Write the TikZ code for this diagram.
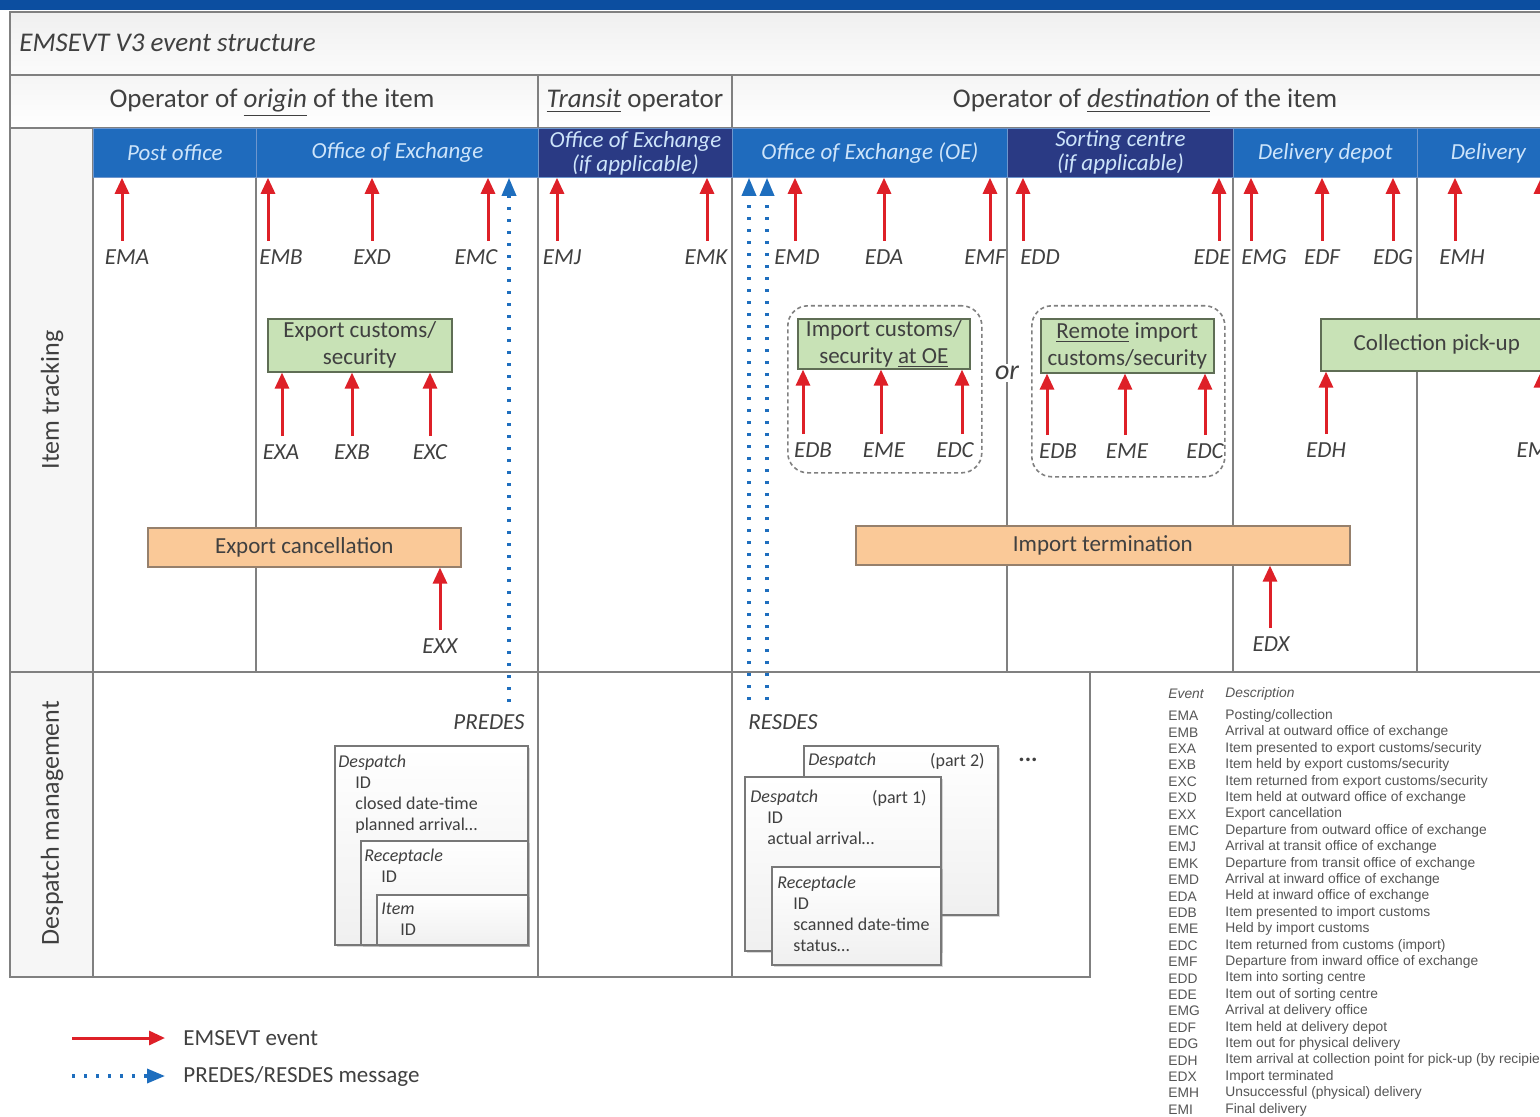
\documentclass[tikz,border=0pt]{standalone}
\usepackage{fontspec}
\setmainfont{Carlito}
\newfontfamily\tabfont{Liberation Sans}
\usetikzlibrary{arrows.meta,shadows}

\definecolor{topblue}{RGB}{12,78,160}
\definecolor{laneblue}{RGB}{31,107,189}
\definecolor{lanedark}{RGB}{42,58,132}
\definecolor{lanetext}{RGB}{205,228,250}
\definecolor{lanesep}{RGB}{110,150,205}
\definecolor{gridgray}{RGB}{128,128,128}
\definecolor{txtgray}{RGB}{64,64,64}
\definecolor{evred}{RGB}{222,32,40}
\definecolor{msgblue}{RGB}{30,110,190}
\definecolor{custgreen}{RGB}{200,226,182}
\definecolor{custedge}{RGB}{95,110,85}
\definecolor{cancel}{RGB}{250,201,152}
\definecolor{canceledge}{RGB}{150,128,108}
\definecolor{boxgray}{RGB}{120,120,120}
\definecolor{tabgray}{RGB}{85,85,85}

\begin{document}
\begin{tikzpicture}
[x=0.5pt,y=-0.5pt,%
  grid/.style={draw=gridgray,line width=0.6pt},%
  lane/.style={fill=laneblue,draw=lanesep,line width=0.4pt,text=lanetext,anchor=north west,
    minimum height=24.5pt,inner sep=0pt,align=center,font=\itshape\fontsize{11.5}{12}\selectfont},%
  hdr/.style={text=txtgray,inner sep=0pt,font=\fontsize{13.5}{15}\selectfont},%
  evl/.style={text=txtgray,inner sep=0pt,font=\itshape\fontsize{11.5}{13}\selectfont},%
  ev/.style={draw=evred,line width=1.5pt,-{Triangle[width=7pt,length=8pt]}},%
  msg/.style={draw=msgblue,line width=1.7pt,dash pattern=on 1.4pt off 4.6pt,-{Triangle[width=7pt,length=9pt]}},%
  cust/.style={fill=custgreen,draw=custedge,line width=0.8pt,anchor=north west,inner sep=0pt,
    align=center,text=txtgray,font=\fontsize{11.5}{13.5}\selectfont},%
  canc/.style={cust,fill=cancel,draw=canceledge},%
  grp/.style={draw=gridgray,line width=0.8pt,dash pattern=on 2pt off 1.5pt,rounded corners=10pt,
    anchor=north west,inner sep=0pt},%
  dbox/.style={draw=boxgray,line width=0.8pt,top color=white,bottom color=gray!12,anchor=north west,
    inner sep=0pt,drop shadow={shadow xshift=1.2pt,shadow yshift=-1.2pt,opacity=0.3}},%
  dtxt/.style={text=txtgray,anchor=north west,inner sep=0pt,align=left,font=\fontsize{9}{10.5}\selectfont},%
  tab/.style={text=tabgray,anchor=west,inner sep=0pt,font=\tabfont\fontsize{6.9}{8}\selectfont}]
\useasboundingbox (0,0) rectangle (1540,1117);
\clip (0,0) rectangle (1540,1117);
\fill[white] (0,0) rectangle (1540,1117);
\fill[topblue] (0,0) rectangle (1540,10);
\shade[top color=gray!12,bottom color=gray!3] (10,12) rectangle (1540,75);
\shade[top color=gray!8,bottom color=white] (10,75) rectangle (1540,128);
\fill[gray!7] (10,128) rectangle (93,977);

% frame
\draw[grid] (1540,12) -- (10,12) -- (10,977) -- (1090,977) -- (1090,672);
\draw[grid] (10,75) -- (1540,75);
\draw[grid] (10,128) -- (1540,128);
\draw[grid] (10,672) -- (1540,672);
\draw[grid] (93,128) -- (93,977);
\foreach \x in {538,732} \draw[grid] (\x,75) -- (\x,977);
\foreach \x in {256,1007,1233,1417} \draw[grid] (\x,177) -- (\x,672);

\node[hdr,anchor=west,font=\itshape\fontsize{13.5}{15}\selectfont] (ttl) at (19,43) {EMSEVT V3 event structure};
\node[hdr,anchor=base] (orig) at (272,108) {Operator of \underline{\textit{origin}} of the item};
\node[hdr,anchor=base] (trns) at (635,108) {\underline{\textit{Transit}} operator};
\node[hdr,anchor=base] (dest) at (1145,108) {Operator of \underline{\textit{destination}} of the item};
\node[hdr,rotate=90,font=\fontsize{13}{15}\selectfont] (itr) at (52,400) {Item tracking};
\node[hdr,rotate=90,font=\fontsize{13}{15}\selectfont] (dspm) at (52,823) {Despatch management};

% lanes
\node[lane,minimum width=81.5pt] (po) at (93,128) {Post office};
\node[lane,minimum width=141pt] (oeo) at (256,128) {Office of Exchange};
\node[lane,fill=lanedark,minimum width=97pt] (oet) at (538,128) {Office of Exchange\\(if applicable)};
\node[lane,minimum width=137.5pt] (oed) at (732,128) {Office of Exchange (OE)};
\node[lane,fill=lanedark,minimum width=113pt] (sc) at (1007,128) {Sorting centre\\(if applicable)};
\node[lane,minimum width=92pt] (dd) at (1233,128) {Delivery depot};
\node[lane,minimum width=71pt] (dl) at (1417,128) {Delivery};

% customs boxes
\node[grp,minimum width=97pt,minimum height=83.5pt] (impg) at (787,305) {};
\node[grp,minimum width=96.5pt,minimum height=85.5pt] (remg) at (1031,305) {};
\node[cust,minimum width=92pt,minimum height=26.5pt] (expc) at (267,318) {Export customs/\\security};
\node[cust,minimum width=86pt,minimum height=25pt] (impc) at (797,318) {Import customs/\\security \underline{at OE}};
\node[cust,minimum width=86.5pt,minimum height=27pt] (remc) at (1040,318) {\underline{Remote} import\\customs/security};
\node[cust,minimum width=116pt,minimum height=26pt] (coll) at (1320,318) {Collection pick-up};
\node[canc,minimum width=156.5pt,minimum height=19.5pt] (expx) at (147,527) {Export cancellation};
\node[canc,minimum width=247pt,minimum height=19.5pt] (impt) at (855,525) {Import termination};
\node[evl,fill=white,inner sep=1pt,font=\itshape\fontsize{14}{16}\selectfont] (or) at (1007,373) {or};

% events
\foreach \n/\t/\ax/\lx/\ly/\tg in {EMA/EMA/122/127/257/po, EMB/EMB/268/281/257/oeo,
  EXD/EXD/372/372/257/oeo, EMC/EMC/488/476/257/oeo, EMJ/EMJ/557/562/257/oet,
  EMK/EMK/707/706/257/oet, EMD/EMD/795/797/257/oed, EDA/EDA/884/884/257/oed,
  EMF/EMF/990/985/257/oed, EDD/EDD/1023/1040/257/sc, EDE/EDE/1219/1212/257/sc,
  EMG/EMG/1251/1264/257/dd, EDF/EDF/1322/1322/257/dd, EDG/EDG/1393/1393/257/dd,
  EMH/EMH/1455/1462/257/dl,
  EXA/EXA/282/281/452/expc, EXB/EXB/352/352/452/expc, EXC/EXC/430/430/452/expc,
  EDBa/EDB/803/813/450/impc, EMEa/EME/881/884/450/impc, EDCa/EDC/962/955/450/impc,
  EDBb/EDB/1047/1058/451/remc, EMEb/EME/1125/1127/451/remc, EDCb/EDC/1205/1205/451/remc,
  EDH/EDH/1326/1326/450/coll, EMI/EMI/1541/1535/450/coll,
  EXX/EXX/440/440/646/expx, EDX/EDX/1270/1271/644/impt}{
  \node[evl] (\n) at (\lx,\ly) {\t};
  \coordinate (\n-a) at (\ax,\ly-16);
  \draw[ev] (\n-a) -- (\n-a |- \tg.south);
}
\coordinate (dlx-a) at (1541,240);
\draw[ev] (dlx-a) -- (dlx-a |- dl.south);

% messages
\node[evl,anchor=east] (predes) at (525,722) {PREDES};
\node[evl,anchor=west] (resdes) at (748,722) {RESDES};
\coordinate (predes-a) at (509,702);
\coordinate (resdes-a) at (749,700);
\coordinate (resdes-b) at (767,700);
\draw[msg] (predes-a) -- (predes-a |- oeo.south);
\draw[msg] (resdes-a) -- (resdes-a |- oed.south);
\draw[msg] (resdes-b) -- (resdes-b |- oed.south);

% PREDES despatch
\node[dbox,minimum width=96.5pt,minimum height=99.5pt] (dsp) at (334,745) {};
\node[dtxt] (dspt) at (338,755) {\textit{Despatch}\\\hspace*{8.5pt}ID\\\hspace*{8.5pt}closed date-time\\\hspace*{8.5pt}planned arrival\ldots};
\node[dbox,minimum width=83.5pt,minimum height=52pt] (rcp) at (360,840) {};
\node[dtxt] (rcpt) at (364,849) {\textit{Receptacle}\\\hspace*{8.5pt}ID};
\node[dbox,minimum width=75.5pt,minimum height=25pt] (itm) at (376,894) {};
\node[dtxt] (itmt) at (381,903) {\textit{Item}\\\hspace*{9.5pt}ID};

% RESDES despatch
\node[dbox,minimum width=97pt,minimum height=84.5pt] (dsp2) at (803,745) {};
\node[dtxt] (dsp2t) at (808,753) {\textit{Despatch}};
\node[dtxt,anchor=north east] (p2) at (985,753) {(part 2)};
\node[dbox,minimum width=98pt,minimum height=87pt] (dsp1) at (744,776) {};
\node[dtxt] (dsp1t) at (750,790) {\textit{Despatch}\\\hspace*{8.5pt}ID\\\hspace*{8.5pt}actual arrival\ldots};
\node[dtxt,anchor=north east] (p1) at (927,790) {(part 1)};
\node[dbox,minimum width=84.5pt,minimum height=49pt] (rcp1) at (771,866) {};
\node[dtxt] (rcp1t) at (777,876) {\textit{Receptacle}\\\hspace*{8pt}ID\\\hspace*{8pt}scanned date-time\\\hspace*{8pt}status\ldots};
\node[evl,font=\bfseries\fontsize{12}{14}\selectfont] (more) at (1028,760) {...};

% event table
\node[tab,font=\tabfont\itshape\fontsize{6.9}{8}\selectfont] (thev) at (1168,694) {Event};
\node[tab,font=\tabfont\itshape\fontsize{6.9}{8}\selectfont] (thde) at (1225,694) {Description};
\foreach \c/\d [count=\i] in {EMA/{Posting/collection}, EMB/{Arrival at outward office of exchange},
  EXA/{Item presented to export customs/security}, EXB/{Item held by export customs/security},
  EXC/{Item returned from export customs/security}, EXD/{Item held at outward office of exchange},
  EXX/{Export cancellation}, EMC/{Departure from outward office of exchange},
  EMJ/{Arrival at transit office of exchange}, EMK/{Departure from transit office of exchange},
  EMD/{Arrival at inward office of exchange}, EDA/{Held at inward office of exchange},
  EDB/{Item presented to import customs}, EME/{Held by import customs},
  EDC/{Item returned from customs (import)}, EMF/{Departure from inward office of exchange},
  EDD/{Item into sorting centre}, EDE/{Item out of sorting centre},
  EMG/{Arrival at delivery office}, EDF/{Item held at delivery depot},
  EDG/{Item out for physical delivery}, EDH/{Item arrival at collection point for pick-up (by recipient)},
  EDX/{Import terminated}, EMH/{Unsuccessful (physical) delivery}, EMI/{Final delivery}}{
  \node[tab] (t\i) at (1168,{716+16.4*(\i-1)}) {\c};
  \node[tab] (d\i) at (1225,{716+16.4*(\i-1)}) {\d};
}

% legend
\node[hdr,anchor=west,font=\fontsize{11.5}{13}\selectfont] (lgev) at (183,1038) {EMSEVT event};
\node[hdr,anchor=west,font=\fontsize{11.5}{13}\selectfont] (lgmsg) at (183,1076) {PREDES/RESDES message};
\coordinate (lgev-a) at (72,1038);
\coordinate (lgmsg-a) at (72,1076);
\draw[ev] (lgev-a) -- ([xshift=-9pt]lgev.west);
\draw[msg] (lgmsg-a) -- ([xshift=-9pt]lgmsg.west);
\end{tikzpicture}
\end{document}
